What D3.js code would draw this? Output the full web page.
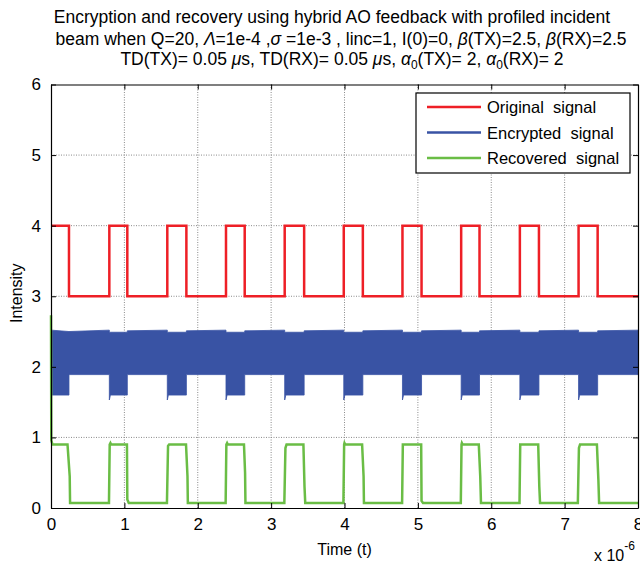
<!DOCTYPE html>
<html>
<head>
<meta charset="utf-8">
<script src="https://cdn.jsdelivr.net/npm/d3@7/dist/d3.min.js"></script>
<style>
  body { margin: 0; background: #fff; }
  svg { display: block; font-family: "Liberation Sans", Arial, sans-serif; }
</style>
</head>
<body>
<div class="chart"></div>
<script>
// Data (time in units of 1e-6 s)
var xTicks = [0, 1, 2, 3, 4, 5, 6, 7, 8];
var yTicks = [0, 1, 2, 3, 4, 5, 6];

// original signal: value at each switching time (step after)
var origTime  = [0, 0.245, 0.795, 1.04, 1.585, 1.845, 2.385, 2.64, 3.185, 3.45, 3.99, 4.25, 4.79, 5.05, 5.59, 5.84, 6.39, 6.65, 7.19, 7.45, 8];
var origValue = [4, 3,     4,     3,    4,     3,     4,     3,    4,     3,    4,    3,    4,    3,    4,    3,    4,    3,    4,    3,    3];

// encrypted signal: dense oscillation, kept as its envelope (time, lower, upper)
var encTime  = [0.005, 0.245, 0.245, 0.795, 0.795, 0.81, 1.04, 1.04, 1.585, 1.585, 1.60, 1.845, 1.845, 2.385, 2.385, 2.40, 2.64, 2.64, 3.185, 3.185, 3.20, 3.45, 3.45, 3.99, 3.99, 4.005, 4.25, 4.25, 4.79, 4.79, 4.805, 5.05, 5.05, 5.59, 5.59, 5.605, 5.84, 5.84, 6.39, 6.39, 6.405, 6.65, 6.65, 7.19, 7.19, 7.205, 7.45, 7.45, 8];
var encLower = [1.60,  1.60,  1.89,  1.89,  1.53,  1.60, 1.60, 1.89, 1.89,  1.53,  1.60, 1.60,  1.89,  1.89,  1.53,  1.60, 1.60, 1.89, 1.89,  1.53,  1.60, 1.60, 1.89, 1.89, 1.53, 1.60,  1.60, 1.89, 1.89, 1.53, 1.60,  1.60, 1.89, 1.89, 1.53, 1.60,  1.60, 1.89, 1.89, 1.53, 1.60,  1.60, 1.89, 1.89, 1.53, 1.60,  1.60, 1.89, 1.89];
var encUpper = [2.52,  2.50,  2.50,  2.52,  2.49,  2.49, 2.49, 2.51, 2.52,  2.49,  2.49, 2.49,  2.51,  2.52,  2.49,  2.49, 2.49, 2.51, 2.52,  2.49,  2.49, 2.49, 2.51, 2.52, 2.49, 2.49,  2.49, 2.51, 2.52, 2.49, 2.49,  2.49, 2.51, 2.52, 2.49, 2.49,  2.49, 2.51, 2.52, 2.49, 2.49,  2.49, 2.51, 2.52, 2.49, 2.49,  2.49, 2.51, 2.52];

// recovered signal
var recTime  = [0, 0.004, 0.02, 0.225, 0.255, 0.26,
  0.79, 0.80, 0.81, 0.82, 1.035, 1.04, 1.06,
  1.58, 1.595, 1.61, 1.84, 1.86, 1.865,
  2.38, 2.39, 2.40, 2.41, 2.63, 2.645, 2.65,
  3.18, 3.195, 3.21, 3.44, 3.455, 3.465,
  3.985, 3.995, 4.00, 4.01, 4.24, 4.26, 4.265,
  4.785, 4.795, 5.045, 5.05, 5.07,
  5.585, 5.595, 5.60, 5.61, 5.83, 5.85, 5.86,
  6.385, 6.395, 6.64, 6.655, 6.665,
  7.18, 7.195, 7.21, 7.44, 7.46, 7.47, 8];
var recValue = [2.73, 0.96, 0.90, 0.90, 0.45, 0.07,
  0.07, 0.90, 0.92, 0.90, 0.90, 0.12, 0.07,
  0.07, 0.88, 0.90, 0.90, 0.45, 0.07,
  0.07, 0.90, 0.92, 0.90, 0.90, 0.50, 0.07,
  0.07, 0.85, 0.90, 0.90, 0.30, 0.07,
  0.07, 0.90, 0.92, 0.90, 0.90, 0.45, 0.07,
  0.07, 0.90, 0.90, 0.10, 0.07,
  0.07, 0.90, 0.92, 0.90, 0.90, 0.45, 0.07,
  0.07, 0.90, 0.90, 0.30, 0.07,
  0.07, 0.85, 0.90, 0.90, 0.40, 0.07, 0.07];

var legendNames = ["Original  signal", "Encrypted  signal", "Recovered  signal"];
var colors = ["#ee1f26", "#3953a4", "#6abd45"];

// Set up SVG area
var svgWidth = 640;
var svgHeight = 565;
var margin = {top: 84.5, right: 2, bottom: 57, left: 51};
var width = svgWidth - margin.left - margin.right;
var height = svgHeight - margin.top - margin.bottom;

var svg = d3.select(".chart")
    .append("svg")
    .attr("width", svgWidth)
    .attr("height", svgHeight);

svg.append("rect").attr("width", svgWidth).attr("height", svgHeight).attr("fill", "#fff");

var chartGroup = svg.append("g")
    .attr("transform", "translate(" + margin.left + "," + margin.top + ")");

var xScale = d3.scaleLinear().domain([0, 8]).range([0, width]);
var yScale = d3.scaleLinear().domain([0, 6]).range([height, 0]);

// Grid lines
chartGroup.append("g").selectAll("line.gx")
    .data(xTicks.slice(1, -1))
    .enter().append("line")
    .attr("x1", d => xScale(d)).attr("x2", d => xScale(d))
    .attr("y1", 0).attr("y2", height)
    .attr("stroke", "#8a8a8a").attr("stroke-dasharray", "1,1.5");

chartGroup.append("g").selectAll("line.gy")
    .data(yTicks.slice(1, -1))
    .enter().append("line")
    .attr("y1", d => yScale(d)).attr("y2", d => yScale(d))
    .attr("x1", 0).attr("x2", width)
    .attr("stroke", "#8a8a8a").attr("stroke-dasharray", "1,1.5");

// Encrypted signal envelope
var encData = encTime.map((t, i) => ({t: t, lo: encLower[i], hi: encUpper[i]}));
var area = d3.area()
    .x(d => xScale(d.t))
    .y0(d => yScale(d.lo))
    .y1(d => yScale(d.hi));

// Original signal
var origData = origTime.map((t, i) => ({t: t, v: origValue[i]}));
var stepLine = d3.line()
    .x(d => xScale(d.t))
    .y(d => yScale(d.v))
    .curve(d3.curveStepAfter);

chartGroup.append("path")
    .datum(origData)
    .attr("d", stepLine)
    .attr("fill", "none")
    .attr("stroke", colors[0])
    .attr("stroke-width", 2.5);

chartGroup.append("path")
    .datum(encData)
    .attr("d", area)
    .attr("fill", colors[1])
    .attr("stroke", colors[1])
    .attr("stroke-width", 0.8);

// Recovered signal
var recData = recTime.map((t, i) => ({t: t, v: recValue[i]}));
var line = d3.line()
    .x(d => xScale(d.t))
    .y(d => yScale(d.v));

chartGroup.append("path")
    .datum(recData)
    .attr("d", line)
    .attr("fill", "none")
    .attr("stroke", colors[2])
    .attr("stroke-width", 2.5);

// Axes (MATLAB style box, ticks inside)
var bottomAxis = d3.axisBottom(xScale).tickValues(xTicks).tickSizeInner(-5).tickSizeOuter(0).tickPadding(10).tickFormat(d3.format("d"));
var topAxis = d3.axisTop(xScale).tickValues(xTicks).tickSizeInner(-5).tickSizeOuter(0).tickFormat("");
var leftAxis = d3.axisLeft(yScale).tickValues(yTicks).tickSizeInner(-5).tickSizeOuter(0).tickPadding(10).tickFormat(d3.format("d"));
var rightAxis = d3.axisRight(yScale).tickValues(yTicks).tickSizeInner(-5).tickSizeOuter(0).tickFormat("");

var gB = chartGroup.append("g").attr("transform", `translate(0, ${height})`).call(bottomAxis);
var gT = chartGroup.append("g").call(topAxis);
var gL = chartGroup.append("g").call(leftAxis);
var gR = chartGroup.append("g").attr("transform", `translate(${width}, 0)`).call(rightAxis);

[gB, gT, gL, gR].forEach(function(g) {
    g.select(".domain").attr("stroke", "#000").attr("stroke-width", 1.2);
    g.selectAll(".tick line").attr("stroke", "#000");
    g.selectAll("text").attr("font-size", "17px").attr("fill", "#000")
        .attr("font-family", "Liberation Sans, Arial, sans-serif");
});

// Axis labels
chartGroup.append("text")
    .attr("transform", "rotate(-90)")
    .attr("x", -(height / 2) + 3)
    .attr("y", -margin.left + 22)
    .attr("text-anchor", "middle")
    .attr("font-size", "16px")
    .text("Intensity");

chartGroup.append("text")
    .attr("x", width / 2)
    .attr("y", height + 47)
    .attr("text-anchor", "middle")
    .attr("font-size", "16px")
    .text("Time (t)");

var expo = chartGroup.append("text")
    .attr("x", width - 44)
    .attr("y", height + 53)
    .attr("font-size", "16px")
    .text("x 10");
expo.append("tspan").attr("dy", -11).attr("font-size", "12px").text("-6");

// Legend
var legend = chartGroup.append("g").attr("transform", "translate(365, 8.5)");
legend.append("rect")
    .attr("width", 214).attr("height", 80)
    .attr("fill", "#fff").attr("stroke", "#000").attr("stroke-width", 1.2);
var rows = legend.selectAll("g.row").data(legendNames).enter().append("g")
    .attr("transform", (d, i) => `translate(0, ${14 + i * 25.5})`);
rows.append("line")
    .attr("x1", 11).attr("x2", 65)
    .attr("stroke", (d, i) => colors[i]).attr("stroke-width", 2.5);
rows.append("text")
    .attr("x", 71).attr("y", 6)
    .attr("font-size", "16.5px")
    .style("white-space", "pre")
    .text(d => d);

// Title
var title = svg.append("g").attr("font-size", "17.5px").attr("text-anchor", "middle");
title.append("text").attr("x", 332).attr("y", 23)
    .text("Encryption and recovery using hybrid AO feedback with profiled incident");

var t2 = title.append("text").attr("x", 341).attr("y", 45);
t2.append("tspan").text("beam when Q=20, ");
t2.append("tspan").attr("font-style", "italic").text("Λ");
t2.append("tspan").text("=1e-4 ,");
t2.append("tspan").attr("font-style", "italic").text("σ");
t2.append("tspan").text(" =1e-3 , linc=1, I(0)=0, ");
t2.append("tspan").attr("font-style", "italic").text("β");
t2.append("tspan").text("(TX)=2.5, ");
t2.append("tspan").attr("font-style", "italic").text("β");
t2.append("tspan").text("(RX)=2.5");

var t3 = title.append("text").attr("x", 342).attr("y", 65);
t3.append("tspan").text("TD(TX)= 0.05 ");
t3.append("tspan").attr("font-style", "italic").text("μ");
t3.append("tspan").text("s, TD(RX)= 0.05 ");
t3.append("tspan").attr("font-style", "italic").text("μ");
t3.append("tspan").text("s, ");
t3.append("tspan").attr("font-style", "italic").text("α");
t3.append("tspan").attr("dy", 4).attr("font-size", "12px").text("0");
t3.append("tspan").attr("dy", -4).text("(TX)= 2, ");
t3.append("tspan").attr("font-style", "italic").text("α");
t3.append("tspan").attr("dy", 4).attr("font-size", "12px").text("0");
t3.append("tspan").attr("dy", -4).text("(RX)= 2");
</script>
</body>
</html>
